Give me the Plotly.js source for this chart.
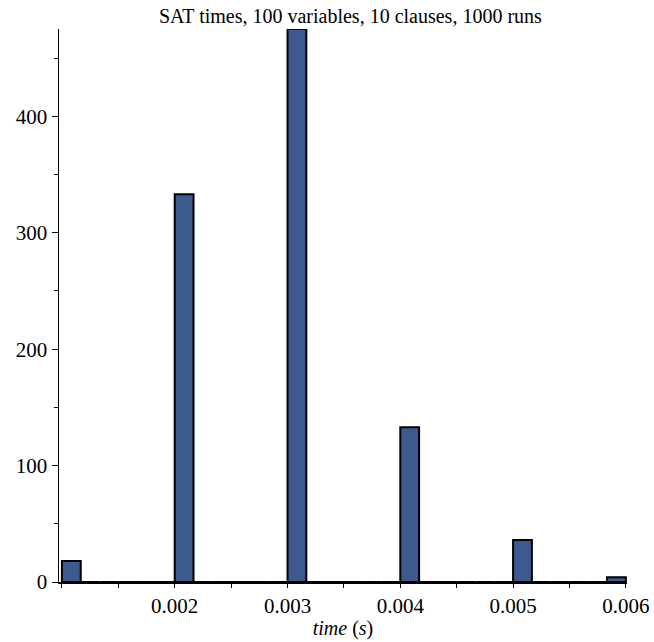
<!DOCTYPE html>
<html>
<head>
<meta charset="utf-8">
<script src="https://cdn.plot.ly/plotly-3.0.1.min.js"></script>
<style>
  html, body { margin: 0; padding: 0; background: #fff; }
  #chart { width: 654px; height: 642px; }
</style>
</head>
<body>
<div id="chart"></div>
<script>
// Histogram: 30 equal bins between the min and max run time
const binMin = 0.001;
const binMax = 0.006;
const counts = [18, 0, 0, 0, 0, 0,
                333, 0, 0, 0, 0, 0,
                475, 0, 0, 0, 0, 0,
                133, 0, 0, 0, 0, 0,
                36, 0, 0, 0, 0, 4];
const xTickVals = [0.001, 0.002, 0.003, 0.004, 0.005, 0.006];
const xTickText = ['', '0.002', '0.003', '0.004', '0.005', '0.006'];
const yTickVals = [0, 100, 200, 300, 400];
const titleText = 'SAT times, 100 variables, 10 clauses, 1000 runs';

const binW = (binMax - binMin) / counts.length;
const centers = counts.map((_, i) => binMin + binW * (i + 0.5));

const font = "'Liberation Serif', 'Times New Roman', serif";

const trace = {
  type: 'bar',
  x: centers,
  y: counts,
  width: binW,
  marker: { color: '#3d5a8e', line: { color: '#000', width: 2 } },
  hoverinfo: 'x+y'
};

const layout = {
  width: 654, height: 642,
  margin: { l: 59, r: 27, t: 29, b: 60, pad: 0 },
  paper_bgcolor: '#fff', plot_bgcolor: '#fff',
  showlegend: false,
  font: { family: font, size: 20, color: '#000' },
  title: {
    text: titleText,
    font: { family: font, size: 20, color: '#000' },
    x: 0.513, xref: 'paper', xanchor: 'center',
    y: 1 - 16 / 642, yref: 'container', yanchor: 'middle'
  },
  xaxis: {
    range: [0.000974, 0.00601],
    tickmode: 'array', tickvals: xTickVals, ticktext: xTickText,
    ticks: 'outside', ticklen: 4, tickwidth: 1, tickcolor: '#000',
    minor: { tickmode: 'linear', tick0: 0.0005, dtick: 0.0005, ticks: 'outside', ticklen: 4, tickwidth: 1, tickcolor: '#000' },
    showline: true, linecolor: '#000', linewidth: 2,
    showgrid: false, zeroline: false,
    tickfont: { family: font, size: 21, color: '#000' },
    title: { text: '<i>time</i> (<i>s</i>)', font: { family: font, size: 20, color: '#000' }, standoff: 4 }
  },
  yaxis: {
    range: [0, 475],
    tickmode: 'array', tickvals: yTickVals,
    ticks: 'outside', ticklen: 6, tickwidth: 1, tickcolor: '#000',
    minor: { tickmode: 'linear', tick0: 50, dtick: 100, ticks: 'outside', ticklen: 4, tickwidth: 1, tickcolor: '#000' },
    showline: true, linecolor: '#000', linewidth: 1.5,
    showgrid: false, zeroline: false,
    tickfont: { family: font, size: 21, color: '#000' }
  },
  bargap: 0
};

Plotly.newPlot('chart', [trace], layout, { displayModeBar: false, staticPlot: true });
</script>
</body>
</html>
